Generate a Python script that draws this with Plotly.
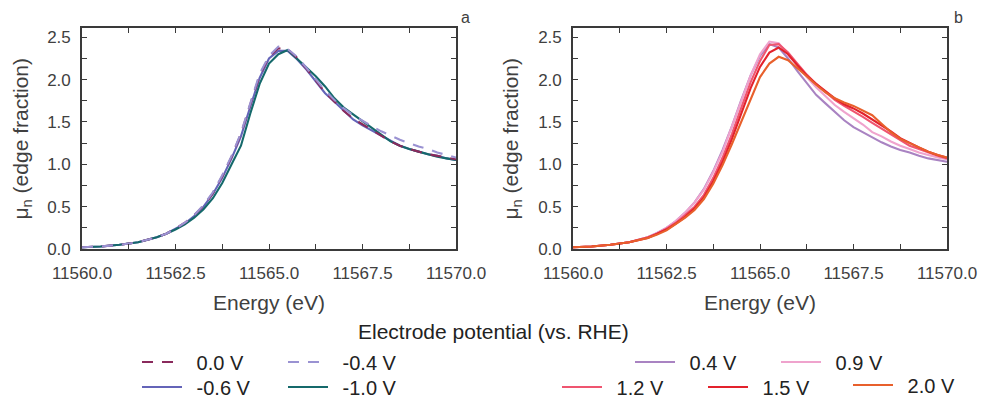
import plotly.graph_objects as go

# ---------------- data ----------------
energy = [11560.0, 11560.5, 11561.0, 11561.5, 11562.0, 11562.25, 11562.5, 11562.75,
          11563.0, 11563.25, 11563.5, 11563.75, 11564.0, 11564.25, 11564.5, 11564.75,
          11565.0, 11565.25, 11565.5, 11565.75, 11566.0, 11566.25, 11566.5, 11566.75,
          11567.0, 11567.25, 11567.5, 11567.75, 11568.0, 11568.25, 11568.5, 11568.75,
          11569.0, 11569.25, 11569.5, 11569.75, 11570.0]

# panel a (reduction potentials)
mu_0p0 = [0.02, 0.03, 0.05, 0.08, 0.14, 0.18, 0.24, 0.31, 0.40, 0.51, 0.66, 0.86,
          1.09, 1.36, 1.71, 2.05, 2.27, 2.37, 2.36, 2.26, 2.13, 1.99, 1.85, 1.74,
          1.63, 1.54, 1.47, 1.40, 1.33, 1.27, 1.22, 1.18, 1.15, 1.12, 1.10, 1.08, 1.06]
mu_m0p4 = [0.02, 0.03, 0.05, 0.08, 0.14, 0.18, 0.24, 0.31, 0.40, 0.52, 0.67, 0.87,
           1.10, 1.37, 1.72, 2.07, 2.28, 2.39, 2.36, 2.27, 2.14, 2.01, 1.87, 1.76,
           1.66, 1.58, 1.51, 1.45, 1.39, 1.34, 1.29, 1.25, 1.21, 1.18, 1.14, 1.11, 1.08]
mu_m0p6 = [0.02, 0.03, 0.05, 0.08, 0.14, 0.18, 0.24, 0.30, 0.39, 0.50, 0.65, 0.84,
           1.07, 1.33, 1.68, 2.02, 2.25, 2.34, 2.34, 2.24, 2.12, 1.98, 1.84, 1.74,
           1.63, 1.53, 1.46, 1.40, 1.33, 1.27, 1.22, 1.18, 1.15, 1.12, 1.10, 1.07, 1.05]
mu_m1p0 = [0.02, 0.03, 0.05, 0.08, 0.14, 0.18, 0.23, 0.29, 0.37, 0.47, 0.60, 0.78,
           1.00, 1.22, 1.60, 1.95, 2.19, 2.30, 2.35, 2.25, 2.15, 2.04, 1.92, 1.78,
           1.67, 1.59, 1.50, 1.42, 1.34, 1.27, 1.22, 1.18, 1.15, 1.12, 1.09, 1.07, 1.05]

# panel b (oxidation potentials)
mu_0p4 = [0.02, 0.03, 0.05, 0.08, 0.14, 0.19, 0.25, 0.33, 0.43, 0.55, 0.71, 0.92,
          1.17, 1.45, 1.76, 2.05, 2.28, 2.42, 2.38, 2.25, 2.10, 1.96, 1.82, 1.72,
          1.62, 1.52, 1.44, 1.38, 1.31, 1.26, 1.21, 1.17, 1.14, 1.10, 1.07, 1.05, 1.03]
mu_0p9 = [0.02, 0.03, 0.05, 0.08, 0.14, 0.19, 0.25, 0.33, 0.43, 0.55, 0.70, 0.91,
          1.15, 1.44, 1.75, 2.05, 2.30, 2.45, 2.43, 2.30, 2.16, 2.03, 1.91, 1.80,
          1.70, 1.62, 1.55, 1.47, 1.38, 1.33, 1.27, 1.22, 1.18, 1.14, 1.11, 1.08, 1.06]
mu_1p2 = [0.02, 0.03, 0.05, 0.08, 0.14, 0.18, 0.24, 0.31, 0.40, 0.50, 0.64, 0.84,
          1.08, 1.36, 1.67, 1.97, 2.22, 2.41, 2.42, 2.32, 2.19, 2.06, 1.95, 1.85,
          1.76, 1.69, 1.63, 1.56, 1.49, 1.42, 1.35, 1.28, 1.22, 1.18, 1.14, 1.10, 1.07]
mu_1p5 = [0.02, 0.03, 0.05, 0.08, 0.13, 0.18, 0.23, 0.30, 0.38, 0.48, 0.61, 0.80,
          1.03, 1.30, 1.60, 1.90, 2.15, 2.32, 2.38, 2.30, 2.17, 2.05, 1.95, 1.86,
          1.78, 1.71, 1.66, 1.60, 1.53, 1.47, 1.39, 1.31, 1.25, 1.20, 1.15, 1.11, 1.08]
mu_2p0 = [0.02, 0.03, 0.05, 0.08, 0.13, 0.17, 0.22, 0.29, 0.37, 0.46, 0.59, 0.77,
          0.99, 1.24, 1.50, 1.78, 2.03, 2.19, 2.27, 2.23, 2.14, 2.04, 1.94, 1.85,
          1.78, 1.73, 1.69, 1.63, 1.58, 1.48, 1.38, 1.30, 1.25, 1.20, 1.15, 1.11, 1.08]

x_tickvals = [11560.0, 11561.25, 11562.5, 11563.75, 11565.0, 11566.25, 11567.5, 11568.75, 11570.0]
x_ticktext = ["11560.0", "", "11562.5", "", "11565.0", "", "11567.5", "", "11570.0"]
y_tickvals = [0.0, 0.25, 0.5, 0.75, 1.0, 1.25, 1.5, 1.75, 2.0, 2.25, 2.5]
y_ticktext = ["0.0", "", "0.5", "", "1.0", "", "1.5", "", "2.0", "", "2.5"]

# ---------------- figure ----------------
W, H = 983, 397
FONT = "Liberation Sans, Arial, sans-serif"
AX = "#3a3a3a"
TXT = "#404040"
PAD = "\u00a0\u2009"  # visual gap between legend line and label

fig = go.Figure()

def add(y, name, color, xa, ya, legend, dash="solid"):
    fig.add_trace(go.Scatter(
        x=energy, y=y, name=PAD + name, mode="lines",
        line=dict(color=color, width=2.1, dash=dash),
        xaxis=xa, yaxis=ya, legend=legend))

DASH = "11px,9px"
add(mu_m0p6, "-0.6 V", "#6464b8", "x", "y", "legend2")
add(mu_m1p0, "-1.0 V", "#15696b", "x", "y", "legend2")
add(mu_0p0, "0.0 V", "#8a2a5c", "x", "y", "legend", DASH)
add(mu_m0p4, "-0.4 V", "#9a92d2", "x", "y", "legend", DASH)

add(mu_0p4, "0.4 V", "#a983c2", "x2", "y2", "legend3")
add(mu_0p9, "0.9 V", "#efa3cd", "x2", "y2", "legend3")
add(mu_1p2, "1.2 V", "#ef5570", "x2", "y2", "legend4")
add(mu_1p5, "1.5 V", "#e3222c", "x2", "y2", "legend4")
add(mu_2p0, "2.0 V", "#e8602c", "x2", "y2", "legend5")

xax = dict(range=[11560, 11570], tickvals=x_tickvals, ticktext=x_ticktext,
           ticks="inside", ticklen=5, tickwidth=1.3, tickcolor=AX,
           showline=True, linecolor=AX, linewidth=1.6, mirror="ticks",
           showgrid=False, zeroline=False, ticklabelstandoff=8, automargin=False,
           tickfont=dict(family=FONT, size=17, color=TXT))
yax = dict(range=[0, 2.61], tickvals=y_tickvals, ticktext=y_ticktext,
           ticks="inside", ticklen=5, tickwidth=1.3, tickcolor=AX,
           showline=True, linecolor=AX, linewidth=1.6, mirror="ticks",
           showgrid=False, zeroline=False, ticklabelstandoff=6, automargin=False,
           tickfont=dict(family=FONT, size=17, color=TXT))

ytop = 1 - 28 / H
ybot = 1 - 249 / H
fig.update_layout(
    width=W, height=H,
    margin=dict(l=0, r=0, t=0, b=0, autoexpand=False),
    paper_bgcolor="white", plot_bgcolor="white",
    xaxis=dict(xax, domain=[82 / W, 456 / W], anchor="y"),
    yaxis=dict(yax, domain=[ybot, ytop], anchor="x"),
    xaxis2=dict(xax, domain=[573 / W, 947 / W], anchor="y2"),
    yaxis2=dict(yax, domain=[ybot, ytop], anchor="x2"),
    font=dict(family=FONT, color=TXT),
)

leg_common = dict(orientation="h", xanchor="left", yanchor="middle",
                  xref="container", yref="container",
                  bgcolor="rgba(0,0,0,0)", borderwidth=0, entrywidth=91,
                  font=dict(family=FONT, size=20, color="#222222"),
                  itemwidth=40, tracegroupgap=0)
row1 = 1 - 362 / H
row2 = 1 - 387 / H
fig.update_layout(
    legend=dict(leg_common, x=137 / W, y=row1),
    legend2=dict(leg_common, x=137 / W, y=row2),
    legend3=dict(leg_common, x=630 / W, y=row1),
    legend4=dict(leg_common, x=557 / W, y=row2),
    legend5=dict(leg_common, x=848 / W, y=1 - 385 / H),
)

ann = []
ytitle = "\u03bc<sub>n</sub> (edge fraction)"
for xc in (22, 512):
    ann.append(dict(text=ytitle, x=xc / W, y=1 - 138.5 / H, xref="paper", yref="paper",
                    showarrow=False, textangle=-90, xanchor="center", yanchor="middle",
                    font=dict(family=FONT, size=21, color=TXT)))
for xc in (269, 760):
    ann.append(dict(text="Energy (eV)", x=xc / W, y=1 - 302 / H, xref="paper", yref="paper",
                    showarrow=False, xanchor="center", yanchor="middle",
                    font=dict(family=FONT, size=21, color=TXT)))
for lab, xc in (("a", 465), ("b", 958)):
    ann.append(dict(text=lab, x=xc / W, y=1 - 17 / H, xref="paper", yref="paper",
                    showarrow=False, xanchor="center", yanchor="middle",
                    font=dict(family=FONT, size=16, color=TXT)))
ann.append(dict(text="Electrode potential (vs. RHE)", x=494 / W, y=1 - 331 / H,
                xref="paper", yref="paper", showarrow=False, xanchor="center",
                yanchor="middle", font=dict(family=FONT, size=21, color="#222222")))
fig.update_layout(annotations=ann)

fig.write_html("out.html", config={"displayModeBar": False},
               post_script="document.body.style.margin='0';document.body.style.overflow='hidden';")
